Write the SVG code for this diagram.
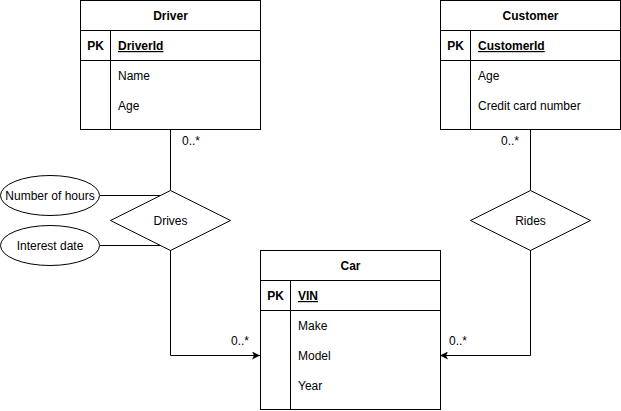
<svg xmlns="http://www.w3.org/2000/svg" width="621" height="411" viewBox="0 0 621 411">
<style>
text{font-family:"Liberation Sans",Arial,sans-serif;font-size:12px;fill:#000}
.b{font-weight:bold}
.c{text-anchor:middle}
.u{text-decoration:underline}
.s{fill:#fff;stroke:#000;stroke-width:1}
.l{fill:none;stroke:#000;stroke-width:1}
</style>
<defs>
<marker id="arr" viewBox="0 0 10 10" refX="10" refY="5" markerWidth="8" markerHeight="8" orient="auto" markerUnits="userSpaceOnUse">
<path d="M0,0 L10,5 L0,10 L2.5,5 Z" fill="#000"/>
</marker>
</defs>
<g id="connectors">
<path class="l" d="M170.5,130 V190"/>
<path class="l" d="M530.5,130 V190"/>
<path class="l" d="M100,195.5 H160"/>
<path class="l" d="M100,245.5 H160"/>
<path class="l" d="M170.5,250 V355.5 H260" marker-end="url(#arr)"/>
<path class="l" d="M530.5,250 V355.5 H440" marker-end="url(#arr)"/>
<text x="182" y="145">0..*</text>
<text x="501" y="145">0..*</text>
<text x="231" y="345">0..*</text>
<text x="449" y="345">0..*</text>
</g>
<g id="driver">
<rect class="s" x="80.5" y="0.5" width="180" height="129"/>
<path class="l" d="M80.5,30.5 H260.5 M80.5,60.5 H260.5 M110.5,30.5 V129.5"/>
<text class="b c" x="170.5" y="20">Driver</text>
<text class="b c" x="95.5" y="50">PK</text>
<text class="b u" x="118" y="50">DriverId</text>
<text x="118" y="80">Name</text>
<text x="118" y="110">Age</text>
</g>
<g id="customer">
<rect class="s" x="440.5" y="0.5" width="180" height="129"/>
<path class="l" d="M440.5,30.5 H620.5 M440.5,60.5 H620.5 M470.5,30.5 V129.5"/>
<text class="b c" x="530.5" y="20">Customer</text>
<text class="b c" x="455.5" y="50">PK</text>
<text class="b u" x="478" y="50">CustomerId</text>
<text x="478" y="80">Age</text>
<text x="478" y="110">Credit card number</text>
</g>
<g id="car">
<rect class="s" x="260.5" y="250.5" width="180" height="159"/>
<path class="l" d="M260.5,280.5 H440.5 M260.5,310.5 H440.5 M290.5,280.5 V409.5"/>
<text class="b c" x="350.5" y="270">Car</text>
<text class="b c" x="275.5" y="300">PK</text>
<text class="b u" x="298" y="300">VIN</text>
<text x="298" y="330">Make</text>
<text x="298" y="360">Model</text>
<text x="298" y="390">Year</text>
</g>
<g id="drives">
<path class="s" d="M170.5,190.5 L230.5,220.5 L170.5,250.5 L110.5,220.5 Z"/>
<text class="c" x="170.5" y="224.5">Drives</text>
</g>
<g id="rides">
<path class="s" d="M530.5,190.5 L590.5,220.5 L530.5,250.5 L470.5,220.5 Z"/>
<text class="c" x="530.5" y="224.5">Rides</text>
</g>
<g id="hours">
<ellipse class="s" cx="50" cy="195.5" rx="49.5" ry="20"/>
<text class="c" x="50" y="199.5">Number of hours</text>
</g>
<g id="interest">
<ellipse class="s" cx="50" cy="245.5" rx="49.5" ry="20"/>
<text class="c" x="50" y="249.5">Interest date</text>
</g>
</svg>
